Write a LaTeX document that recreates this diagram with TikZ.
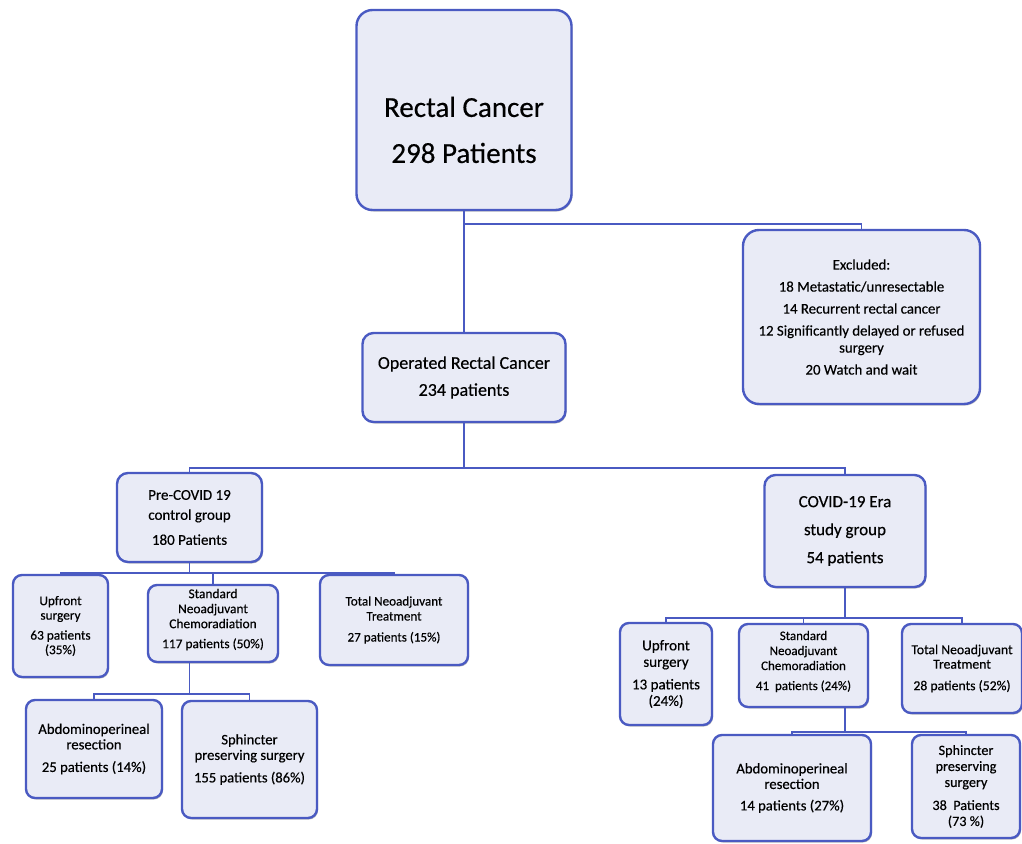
\documentclass[tikz,border=0pt]{standalone}
\usepackage{fontspec}
\setmainfont{Carlito}[FakeBold=0.4]
\usetikzlibrary{shadows}
\definecolor{boxline}{HTML}{4A5AC2}
\definecolor{boxfill}{HTML}{E9EBF6}
\definecolor{conn}{HTML}{4A5AC2}
\tikzset{
  box/.style={draw=boxline, line width=2.4pt, fill=boxfill, rounded corners=11pt,
    align=center, inner sep=0pt, text=black,
    drop shadow={shadow xshift=1pt, shadow yshift=-1.5pt, opacity=0.25, fill=black}},
  wire/.style={draw=conn, line width=1.8pt},
}
\begin{document}
\begin{tikzpicture}[x=1pt,y=-1pt]
\useasboundingbox (0,0) rectangle (1022,843);
% top
\node[box, minimum width=215pt, minimum height=200pt, rounded corners=16pt, font=\fontsize{29}{46}\selectfont] (top) at (464,110) {\mbox{}\\[14pt]Rectal Cancer\\298 Patients};
\node[box, minimum width=237pt, minimum height=174pt, rounded corners=16pt, font=\fontsize{14.8}{17}\selectfont] (excl) at (861.5,317)
  {Excluded:\\[5pt]18 Metastatic/unresectable\\[5pt]14 Recurrent rectal cancer\\[5pt]12 Significantly delayed or refused\\surgery\\[5pt]20 Watch and wait};
\node[box, minimum width=203pt, minimum height=89pt, font=\fontsize{18}{27}\selectfont] (oper) at (464,377.5) {Operated Rectal Cancer\\234 patients};
% groups
\node[box, minimum width=145pt, minimum height=89pt, font=\fontsize{15}{20}\selectfont] (pre) at (189.5,517.5) {Pre-COVID 19\\control group\\[5pt]180 Patients};
\node[box, minimum width=161pt, minimum height=112pt, font=\fontsize{17}{28}\selectfont] (covid) at (845,531) {COVID-19 Era\\study group\\54 patients};
% pre children
\node[box, minimum width=95pt, minimum height=102pt, rounded corners=9pt, font=\fontsize{13.3}{14.5}\selectfont] (up1) at (60.5,626) {Upfront\\surgery\\[5.5pt]63 patients\\(35\%)};
\node[box, minimum width=130pt, minimum height=77pt, rounded corners=9pt, font=\fontsize{13.4}{15}\selectfont] (std1) at (213,623.5) {Standard\\Neoadjuvant\\Chemoradiation\\[5pt]117 patients (50\%)\\[-5pt]\mbox{}};
\node[box, minimum width=148pt, minimum height=90pt, rounded corners=9pt, font=\fontsize{13.1}{15}\selectfont] (tot1) at (394,620) {Total Neoadjuvant\\Treatment\\[6pt]27 patients (15\%)};
\node[box, minimum width=136pt, minimum height=98pt, rounded corners=9pt, font=\fontsize{14.7}{15.5}\selectfont] (apr1) at (94,749) {Abdominoperineal\\resection\\[7pt]25 patients (14\%)};
\node[box, minimum width=135pt, minimum height=117pt, rounded corners=9pt, font=\fontsize{14.6}{15.5}\selectfont] (sph1) at (249.5,759.5) {Sphincter\\preserving surgery\\[7pt]155 patients (86\%)};
% covid children
\node[box, minimum width=92pt, minimum height=102pt, rounded corners=9pt, font=\fontsize{15}{16.5}\selectfont] (up2) at (666,674) {Upfront\\surgery\\[6pt]13 patients\\(24\%)};
\node[box, minimum width=129pt, minimum height=83pt, rounded corners=9pt, font=\fontsize{13}{15}\selectfont] (std2) at (803.5,665.5) {Standard\\Neoadjuvant\\Chemoradiation\\[5pt]41~~patients (24\%)\\[-5pt]\mbox{}};
\node[box, minimum width=120pt, minimum height=89pt, rounded corners=9pt, font=\fontsize{13.7}{14.5}\selectfont] (tot2) at (962,668.5) {Total Neoadjuvant\\Treatment\\[7pt]28 patients (52\%)};
\node[box, minimum width=158pt, minimum height=106pt, rounded corners=9pt, font=\fontsize{14.7}{15.5}\selectfont] (apr2) at (792,788) {Abdominoperineal\\resection\\[6pt]14 patients (27\%)};
\node[box, minimum width=108pt, minimum height=103pt, rounded corners=9pt, font=\fontsize{14.2}{16}\selectfont] (sph2) at (966,786.5) {Sphincter\\preserving\\surgery\\[7pt]38~~Patients\\(73 \%)};
% connectors
\coordinate (j1) at (464,224);
\draw[wire] (top.south) -- (oper.north);
\draw[wire] (j1) -| (excl.north);
\path (oper.south) ++(0,45) coordinate (b1);
\draw[wire] (oper.south) -- (b1);
\draw[wire] (b1) -| (pre.north);
\draw[wire] (b1) -| (covid.north);
\path (pre.south) ++(0,10) coordinate (b2);
\draw[wire] (pre.south) -- (b2);
\draw[wire] (b2) -| (up1.north);
\draw[wire] (b2) -| (std1.north);
\draw[wire] (b2) -| (tot1.north);
\path (std1.south -| pre.south) coordinate (s1) ++(0,31) coordinate (b3);
\draw[wire] (s1) -- (b3);
\draw[wire] (b3) -| (apr1.north);
\draw[wire] (b3) -| (sph1.north);
\path (covid.south) ++(0,30) coordinate (b4);
\draw[wire] (covid.south) -- (b4);
\draw[wire] (b4) -| (up2.north);
\draw[wire] (b4) -| (std2.north);
\draw[wire] (b4) -| (tot2.north);
\path (std2.south -| covid.south) coordinate (s2) ++(0,24) coordinate (b5);
\draw[wire] (s2) -- (b5);
\draw[wire] (b5) -| (apr2.north);
\draw[wire] (b5) -| (sph2.north);
\end{tikzpicture}
\end{document}
